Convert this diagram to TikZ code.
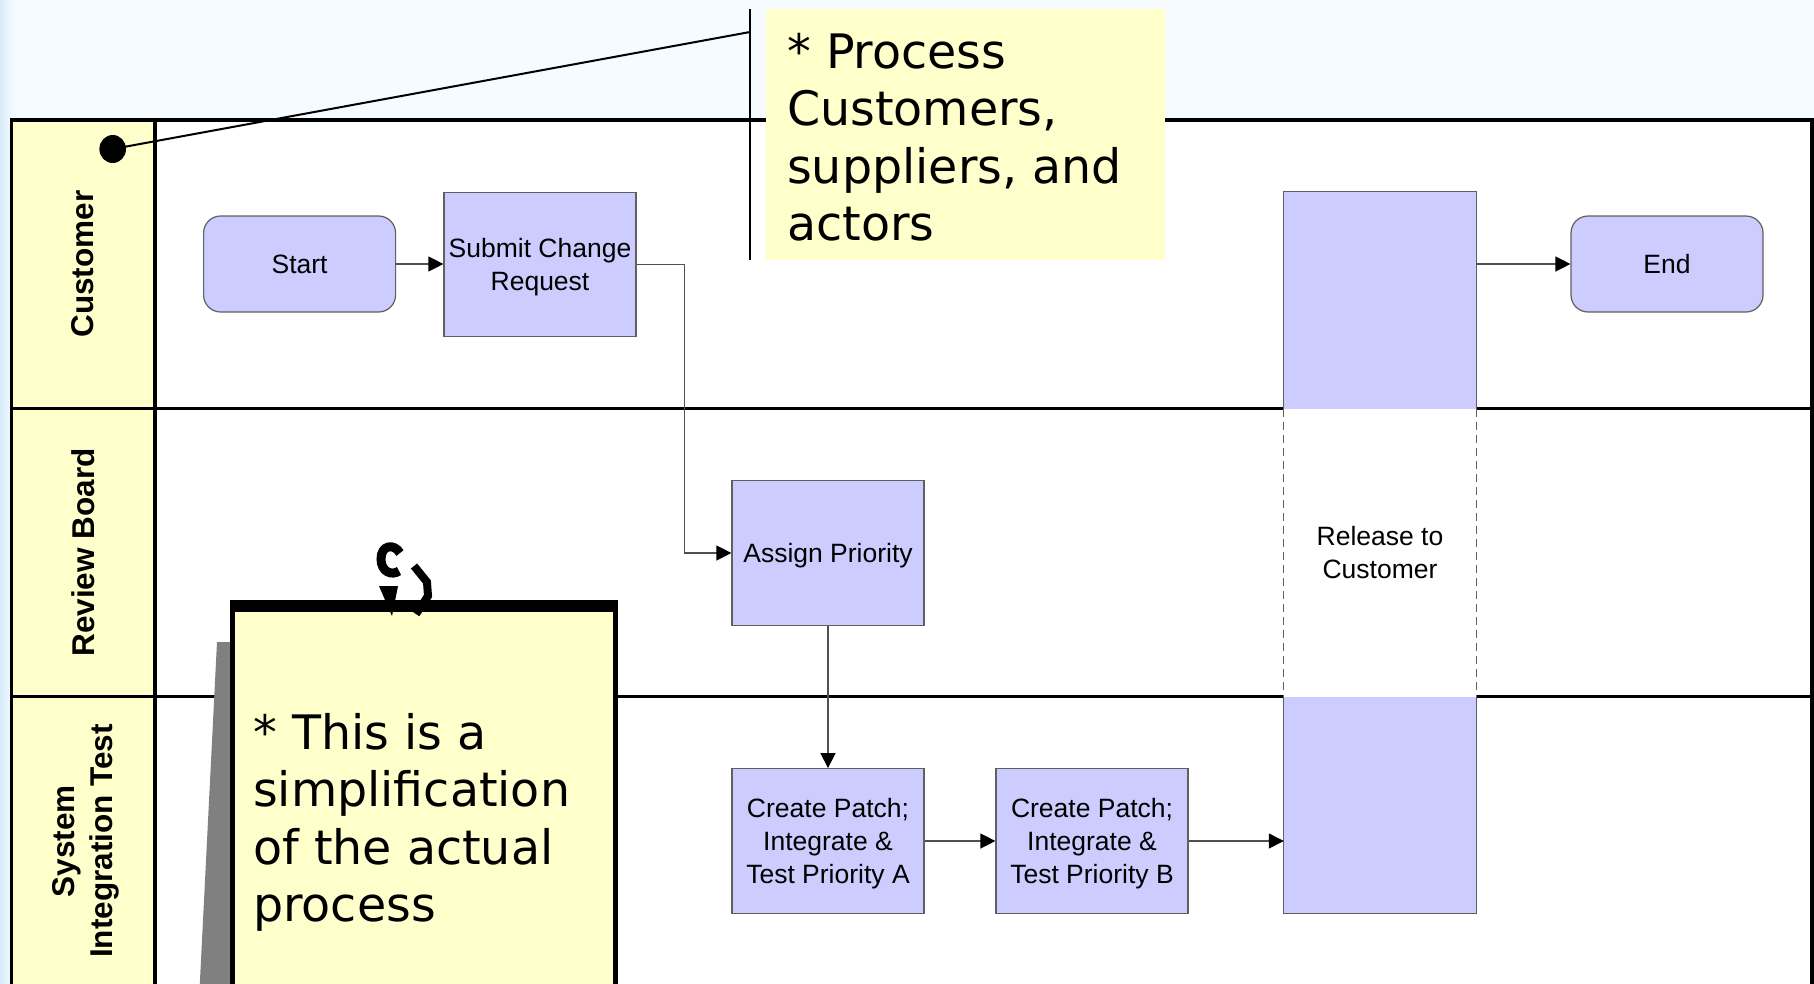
\documentclass[tikz,border=0pt]{standalone}
\usepackage{fontspec}
\setmainfont{Liberation Sans}
\newfontfamily\notefont{DejaVu Sans}
\usetikzlibrary{arrows.meta,calc}
\definecolor{bgblue}{RGB}{246,251,255}
\definecolor{edgeblue}{RGB}{218,236,252}
\definecolor{noteyellow}{RGB}{255,255,204}
\definecolor{boxblue}{RGB}{204,204,255}
\definecolor{boxline}{RGB}{96,96,96}
\definecolor{connline}{RGB}{80,80,80}
\definecolor{shadowgray}{RGB}{128,128,128}
\begin{document}
\begin{tikzpicture}[x=1pt,y=-1pt,
  task/.style={draw=boxline,line width=1.2,fill=boxblue,minimum width=192,minimum height=144.6,inner sep=0,align=center,text depth=0pt,font=\fontsize{26.5}{33}\selectfont},
  term/.style={task,rounded corners=17,minimum height=96},
  conn/.style={draw=connline,line width=1.3,-{Triangle[length=15,width=15,color=black]}},
  lanelabel/.style={rotate=90,font=\bfseries\fontsize{31.5}{38}\selectfont,align=center,inner sep=0},
  notetext/.style={font=\notefont\fontsize{47.5}{57.5}\selectfont,align=left,anchor=north west,inner sep=0},
  heavy/.style={line width=3.5}]
\useasboundingbox (0,0) rectangle (1814,983);
\clip (0,0) rectangle (1814,983);
% background
\fill[bgblue] (0,0) rectangle (1814,983);
\shade[left color=edgeblue,right color=bgblue] (0,0) rectangle (14,983);
% pool and lanes
\fill[white] (155,120) rectangle (1812,1000);
\fill[noteyellow] (11.6,120) rectangle (155,1000);
\draw[heavy] (11.6,1000) -- (11.6,120) -- (1812,120) -- (1812,1000);
\draw[heavy] (155,120) -- (155,1000);
\draw[heavy] (11.6,408.5) -- (1812,408.5);
\draw[heavy] (11.6,696.5) -- (1812,696.5);
% lane labels
\node[lanelabel] (lcust) at (83,264) {Customer};
\node[lanelabel] (lrev) at (83,552.5) {Review Board};
\node[lanelabel] (lsys) at (86,841) {System\\Integration Test};
% tasks
\node[term] (start) at (299.6,264) {Start};
\node[task] (submit) at (540,264.5) {Submit Change\\Request};
\node[task] (assign) at (828,553) {Assign Priority};
\node[task] (pa) at (828,841) {Create Patch;\\Integrate \&\\Test Priority A};
\node[task] (pb) at (1092,841) {Create Patch;\\Integrate \&\\Test Priority B};
\node[term] (end) at (1667,264) {End};
% release (spans lanes)
\fill[white] (1284,192) rectangle (1476,913);
\node[minimum width=192,minimum height=721,inner sep=0,align=center,text depth=0pt,font=\fontsize{26.5}{33}\selectfont] (rel) at (1380,552.5) {Release to\\Customer};
\draw[boxline,line width=1.2,fill=boxblue] (rel.west |- 0,408.5) -- (rel.north west) -- (rel.north east) -- (rel.east |- 0,408.5);
\draw[boxline,line width=1.2,fill=boxblue] (rel.west |- 0,696.5) -- (rel.south west) -- (rel.south east) -- (rel.east |- 0,696.5);
\draw[boxline,line width=1.2,dash pattern=on 8 off 5] (rel.west |- 0,408.5) -- (rel.west |- 0,696.5);
\draw[boxline,line width=1.2,dash pattern=on 8 off 5] (rel.east |- 0,408.5) -- (rel.east |- 0,696.5);
% connectors
\draw[conn] (start.east) -- (submit.west |- start.east);
\draw[conn] (submit.east) -- ++(48,0) |- (assign.west);
\draw[conn] (assign) -- (pa);
\draw[conn] (pa) -- (pb);
\draw[conn] (pb.east) -- (pb.east -| rel.west);
\draw[conn] (rel.east |- end.west) -- (end.west);
% top callout
\coordinate (dot) at (112.7,149);
\coordinate (calltop) at (750,9);
\coordinate (callbot) at (750,260);
\coordinate (callpt) at (750,32);
\draw[line width=2] (calltop) -- (callbot);
\fill (dot) ellipse (13.3 and 14);
\draw[line width=2] (dot) -- (callpt);
\node[fill=noteyellow,minimum width=399,minimum height=251,anchor=north west,inner sep=0] (note1) at (766,9) {};
\node[notetext] (note1text) at (787,33) {* Process\\Customers,\\suppliers, and\\actors};
% bottom note
\fill[shadowgray] (217,642) -- (230,642) -- (230,1000) -- (199,1000) -- cycle;
\draw[fill=noteyellow,line width=5] (232.5,608) rectangle (615.5,1010);
\fill (230,600) rectangle (618,612);
\node[notetext] (note2text) at (253,713) {* This is a\\simplification\\of the actual\\process};
% clip glyph
\draw[line width=9] (400,553) .. controls (394,543) and (381,545) .. (381,559) .. controls (381,572) and (392,576) .. (399,571);
\fill (379,586) -- (398,586) -- (392,616) -- cycle;
\draw[line width=8] (414,566) -- (427,582) -- (428,596) -- (416,614);
\end{tikzpicture}
\end{document}
